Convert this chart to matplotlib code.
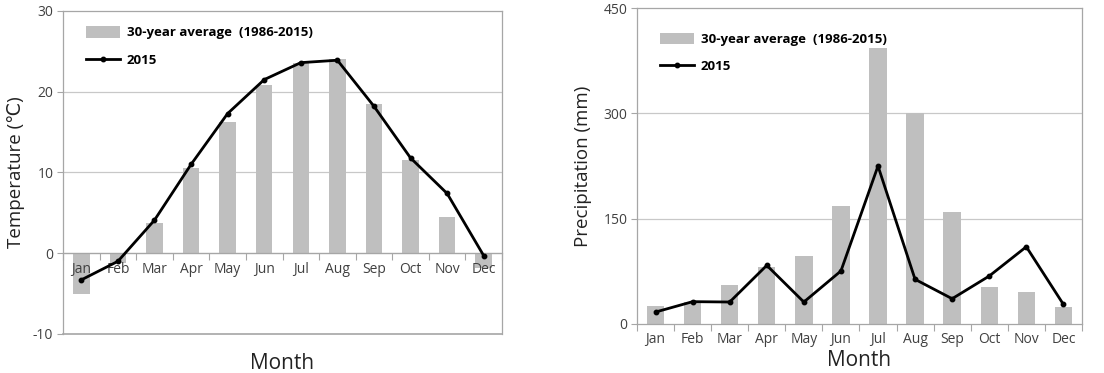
import matplotlib
matplotlib.use("Agg")
import matplotlib.pyplot as plt
import numpy as np

# ── Data ─────────────────────────────────────────────────────────────────────
MONTHS = ["Jan", "Feb", "Mar", "Apr", "May", "Jun",
          "Jul", "Aug", "Sep", "Oct", "Nov", "Dec"]

TEMP_AVG = [-5.1, -1.2, 3.7, 10.6, 16.2, 20.8, 23.6, 24.0, 18.5, 11.6, 4.5, -1.8]
TEMP_2015 = [-3.3, -1.0, 4.1, 11.0, 17.3, 21.5, 23.6, 23.9, 18.2, 11.8, 7.4, -0.3]

PREC_AVG = [25.6, 32.0, 55.0, 81.6, 96.8, 167.5, 392.5, 300.0, 159.0, 53.0, 46.0, 24.2]
PREC_2015 = [17.0, 31.8, 31.3, 83.5, 31.3, 75.5, 225.0, 63.6, 36.0, 68.3, 110.0, 28.0]

LEGEND_LABELS = ["30-year average  (1986-2015)", "2015"]

# ── Style ────────────────────────────────────────────────────────────────────
BAR_COLOR = "#bfbfbf"
FRAME = "#a6a6a6"
GRID = "#c8c8c8"
TEXT = "#404040"
plt.rcParams["font.family"] = ["Open Sans", "DejaVu Sans"]
plt.rcParams["axes.unicode_minus"] = False

fig = plt.figure(figsize=(11.04, 3.73), dpi=100)
ax1 = fig.add_axes([0.0571, 0.1046, 0.3976, 0.866])
ax2 = fig.add_axes([0.577, 0.1314, 0.403, 0.847])

x = np.arange(len(MONTHS))


def style_axis(ax, ylim, yticks):
    ax.set_xlim(-0.5, 11.5)
    ax.set_ylim(*ylim)
    ax.set_yticks(yticks)
    ax.set_xticks(x)
    ax.set_xticklabels(MONTHS)
    ax.set_xticks(np.arange(-0.5, 12.0, 1.0), minor=True)
    ax.tick_params(axis="x", which="major", length=0, labelsize=10,
                   labelcolor=TEXT, pad=6)
    ax.tick_params(axis="x", which="minor", length=5, color=FRAME, width=0.8)
    ax.tick_params(axis="y", length=4, color=FRAME, width=0.8,
                   labelsize=10, labelcolor=TEXT, pad=3)
    for sp in ax.spines.values():
        sp.set_color(FRAME)
        sp.set_linewidth(0.9)
    # gridlines behind bars, tick labels on top of bars
    for yv in yticks[1:-1]:
        ax.axhline(yv, color=GRID, linewidth=0.9, zorder=0.5)
    ax.set_axisbelow(False)


def add_legend(ax, handles, anchor):
    ax.legend(handles, LEGEND_LABELS, loc="upper left", bbox_to_anchor=anchor,
              frameon=False, prop={"weight": "bold", "size": 9.5},
              handlelength=2.6, handleheight=1.0, labelspacing=1.05,
              handletextpad=0.5)


# ── Temperature ──────────────────────────────────────────────────────────────
b1 = ax1.bar(x, TEMP_AVG, width=0.45, color=BAR_COLOR, zorder=1)
l1, = ax1.plot(x, TEMP_2015, color="black", linewidth=2, marker="o",
               markersize=3.2, zorder=3)
style_axis(ax1, (-10, 30), [-10, 0, 10, 20, 30])
ax1.spines["bottom"].set_position(("data", 0))
ax1.axhline(-10, color=FRAME, linewidth=1.2, clip_on=False, zorder=1)
ax1.set_ylabel("Temperature (\u2103)", fontsize=13.5, color="#222222", labelpad=6)
ax1.text(0.5, -0.09, "Month", transform=ax1.transAxes, ha="center", va="center",
         fontsize=15, color="#222222")
add_legend(ax1, [b1, l1], (0.025, 0.99))

# ── Precipitation ────────────────────────────────────────────────────────────
b2 = ax2.bar(x, PREC_AVG, width=0.47, color=BAR_COLOR, zorder=1)
l2, = ax2.plot(x, PREC_2015, color="black", linewidth=2, marker="o",
               markersize=3.2, zorder=3)
style_axis(ax2, (0, 450), [0, 150, 300, 450])
ax2.set_ylabel("Precipitation (mm)", fontsize=13.5, color="#222222", labelpad=8)
ax2.text(0.5, -0.114, "Month", transform=ax2.transAxes, ha="center", va="center",
         fontsize=15, color="#222222")
add_legend(ax2, [b2, l2], (0.025, 0.96))

fig.savefig("out.png", dpi=100)
